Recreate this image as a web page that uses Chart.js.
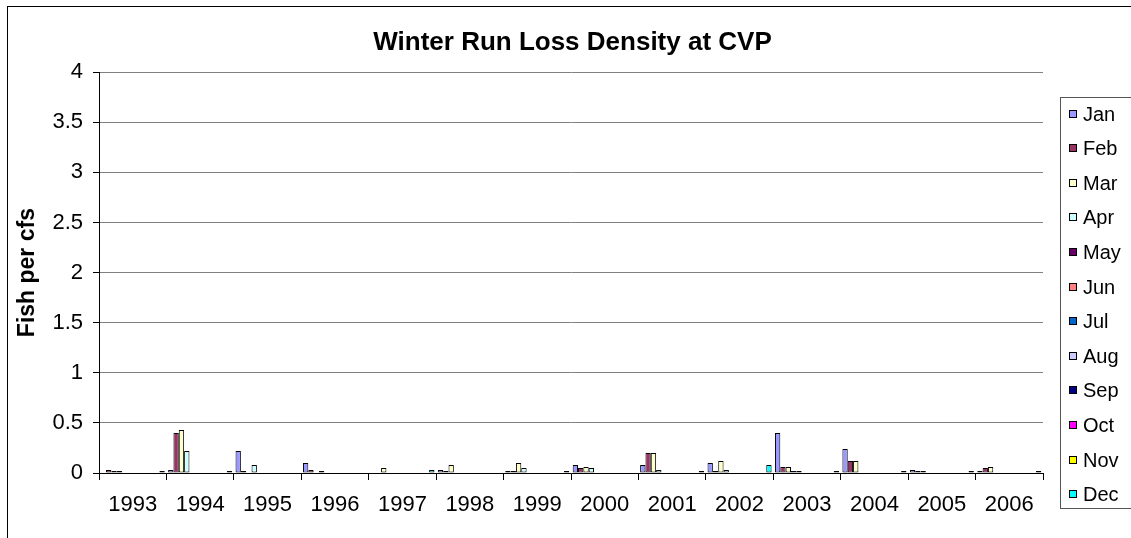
<!DOCTYPE html>
<html>
<head>
<meta charset="utf-8">
<title>Winter Run Loss Density at CVP</title>
<script src="https://cdn.jsdelivr.net/npm/chart.js@4.4.0/dist/chart.umd.min.js"></script>
<style>
  html, body { margin: 0; padding: 0; background: #fff; }
</style>
</head>
<body>
<canvas id="myChart" width="1131" height="538"></canvas>
<script>
// chart data
var years = ["1993", "1994", "1995", "1996", "1997", "1998", "1999", "2000", "2001", "2002", "2003", "2004", "2005", "2006"];
var months = ["Jan", "Feb", "Mar", "Apr", "May", "Jun", "Jul", "Aug", "Sep", "Oct", "Nov", "Dec"];

var jan = [0, 0.03, 0.22, 0.10, 0, 0.03, 0.02, 0.08, 0.08, 0.10, 0.40, 0.24, 0.03, 0.02];
var feb = [0.03, 0.40, 0.02, 0.03, 0, 0.02, 0.02, 0.05, 0.20, 0.02, 0.06, 0.12, 0.02, 0.05];
var mar = [0.02, 0.43, 0, 0, 0.05, 0.08, 0.10, 0.06, 0.20, 0.12, 0.06, 0.12, 0.02, 0.06];
var apr = [0.02, 0.22, 0.08, 0.02, 0, 0, 0.05, 0.05, 0.03, 0.03, 0.02, 0, 0, 0];
var may = [0, 0, 0, 0, 0, 0, 0, 0, 0, 0, 0.02, 0, 0, 0];
var jun = [0, 0, 0, 0, 0, 0, 0, 0, 0, 0, 0, 0, 0, 0];
var jul = [0, 0, 0, 0, 0, 0, 0, 0, 0, 0, 0, 0, 0, 0];
var aug = [0, 0, 0, 0, 0, 0, 0, 0, 0, 0, 0, 0, 0, 0];
var sep = [0, 0, 0, 0, 0, 0, 0, 0, 0, 0, 0, 0, 0, 0];
var oct = [0, 0, 0, 0, 0, 0, 0, 0, 0, 0, 0, 0, 0, 0];
var nov = [0, 0, 0, 0, 0, 0, 0, 0, 0, 0, 0, 0, 0, 0];
var dec = [0.02, 0.02, 0, 0, 0.03, 0, 0.02, 0, 0.02, 0.08, 0.02, 0.02, 0.02, 0.02];

var monthColors = ["#9999FF", "#993366", "#FFFFCC", "#CCFFFF", "#660066", "#FF8080",
                   "#0066CC", "#CCCCFF", "#000080", "#FF00FF", "#FFFF00", "#00FFFF"];

var monthValues = [jan, feb, mar, apr, may, jun, jul, aug, sep, oct, nov, dec];

var datasets = [];
for (var i = 0; i < months.length; i++) {
    datasets.push({
        label: months[i],
        data: monthValues[i],
        backgroundColor: monthColors[i],
        borderColor: "#000",
        borderWidth: 1,
        borderSkipped: false,
        categoryPercentage: 0.95,
        barPercentage: 1.0
    });
}

// frame + legend box like the excel one
var boxLegend = {
    id: "boxLegend",
    afterDraw: function (chart) {
        var ctx = chart.ctx;
        ctx.save();
        ctx.strokeStyle = "#000";
        ctx.lineWidth = 1;
        ctx.strokeRect(7.5, 6.5, 1200, 700);

        ctx.strokeStyle = "#555";
        ctx.strokeRect(1060.5, 97.5, 200, 411);

        ctx.font = "20px 'Liberation Sans', Arial, sans-serif";
        ctx.textBaseline = "middle";
        ctx.textAlign = "left";
        var items = chart.data.datasets;
        for (var k = 0; k < items.length; k++) {
            var y = Math.round(113.5 + k * 34.6);
            ctx.fillStyle = items[k].backgroundColor;
            ctx.fillRect(1069, y - 4, 8, 8);
            ctx.strokeStyle = "#000";
            ctx.strokeRect(1069.5, y - 3.5, 7, 7);
            ctx.fillStyle = "#000";
            ctx.fillText(items[k].label, 1083, y + 1);
        }
        ctx.restore();
    }
};

Chart.defaults.font.family = "'Liberation Sans', Arial, sans-serif";
Chart.defaults.color = "#000";

new Chart("myChart", {
    type: "bar",
    data: {
        labels: years,
        datasets: datasets
    },
    options: {
        responsive: false,
        animation: false,
        devicePixelRatio: 1,
        layout: { padding: { left: 14, right: 0, top: 0, bottom: 0 } },
        plugins: {
            legend: { display: false },
            tooltip: { enabled: false },
            title: {
                display: true,
                text: "Winter Run Loss Density at CVP",
                color: "#000",
                font: { size: 26, weight: "bold" },
                padding: { top: 27, bottom: 14 }
            }
        },
        scales: {
            x: {
                afterFit: function (scale) { scale.height = 65; },
                grid: { drawOnChartArea: false, tickLength: 7, tickColor: "#000", offset: true },
                border: { color: "#000" },
                ticks: { font: { size: 22 }, color: "#000", padding: 12, maxRotation: 0, autoSkip: false }
            },
            y: {
                min: 0,
                max: 4,
                afterFit: function (scale) { scale.width = 85; },
                grid: { color: "#808080", tickLength: 6, tickColor: "#000" },
                border: { color: "#000" },
                ticks: {
                    stepSize: 0.5,
                    font: { size: 22 },
                    color: "#000",
                    padding: 10,
                    callback: function (value) { return String(value); }
                },
                title: {
                    display: true,
                    text: "Fish per cfs",
                    color: "#000",
                    font: { size: 23, weight: "bold" },
                    padding: { top: 0, bottom: 0 }
                }
            },
            // empty axis, keeps room for the legend on the right
            yRoom: {
                position: "right",
                min: 0,
                max: 4,
                afterFit: function (scale) { scale.width = 88; },
                grid: { display: false },
                border: { display: false },
                ticks: { display: false }
            }
        }
    },
    plugins: [boxLegend]
});
</script>
</body>
</html>
